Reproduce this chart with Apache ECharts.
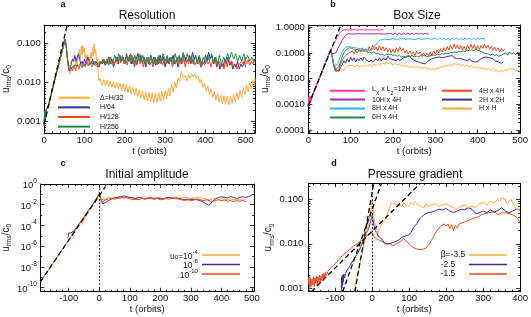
<!DOCTYPE html>
<html><head><meta charset="utf-8">
<script src="https://cdn.jsdelivr.net/npm/echarts@6/dist/echarts.min.js"></script>
<style>html,body{margin:0;padding:0;background:#fff}#c{width:531px;height:317px}</style>
</head><body><div id="c"></div>
<script>
// ---------------- DATA ----------------
// Panel a: Resolution
const aGrowth = [[0,0.0008],[1,0.0016],[2,0.0011],[3,0.0019],[4,0.0013],[5,0.002],[7,0.0018],[10,0.0025],[15,0.004],[20,0.0065],[25,0.0105],[30,0.0165],[35,0.026],[40,0.042],[45,0.066],[50,0.107],[52,0.13]];
const aDashed = [[0,0.00085],[57,0.3]];
const aH32 = [[55,0.07],[58,0.035],[61,0.022],[64,0.017],[67,0.022],[70,0.02],[73,0.028],[76,0.024],[79,0.035],[82,0.03],[85,0.05],[88,0.07],[90,0.04],[92,0.085],[94,0.05],[96,0.09],[98,0.06],[100,0.075],[102,0.04],[104,0.055],[106,0.035],[108,0.05],[110,0.03],[112,0.045],[114,0.035],[116,0.06],[118,0.04],[120,0.08],[122,0.05],[124,0.1],[126,0.055],[128,0.07],[130,0.035],[132,0.04],[134,0.02],[136,0.011],[138,0.013],
[140,0.012],[144,0.0085],[148,0.012],[152,0.008],[156,0.0115],[160,0.0078],[164,0.011],[168,0.0075],[172,0.0105],[176,0.0072],[180,0.0102],[184,0.0068],[188,0.0098],[192,0.0063],[196,0.0092],[200,0.0058],[204,0.0088],[208,0.0055],[212,0.0082],[216,0.005],[220,0.0076],[224,0.0047],[228,0.0072],[232,0.0043],[236,0.0066],[240,0.004],[244,0.0062],[248,0.0036],[252,0.0058],[256,0.0034],[260,0.0056],[264,0.0032],[268,0.0055],[272,0.003],[276,0.0053],[280,0.0031],[284,0.0055],[288,0.0033],[292,0.006],[296,0.0035],[300,0.0062],[304,0.0038],[308,0.0072],[312,0.0045],[316,0.0088],[320,0.0056],[324,0.0105],[328,0.0072],[332,0.013],[336,0.011],[340,0.019],[343,0.021],[346,0.013],[350,0.015],[354,0.011],[358,0.016],[362,0.013],[366,0.017],[370,0.014],[374,0.017],[378,0.013],[382,0.015],[386,0.01],[390,0.012],[394,0.0075],[398,0.0098],[402,0.006],[406,0.0082],[410,0.005],[414,0.007],[418,0.0042],[422,0.006],[426,0.0036],[430,0.0052],[434,0.0032],[438,0.0048],[442,0.0029],[446,0.0046],[450,0.0028],[454,0.0045],[458,0.0027],[462,0.0046],[466,0.0029],[470,0.005],[474,0.0032],[478,0.0056],[482,0.0036],[486,0.0064],[490,0.0042],[494,0.0074],[498,0.0049],[502,0.0085],[506,0.0058],[510,0.0098],[514,0.0068],[518,0.0115],[522,0.0085],[523,0.013]];
const aH64 = [[55,0.08],[58,0.04],[61,0.025],[64,0.02],[67,0.03],[70,0.04],[73,0.035],[76,0.05],[79,0.035],[82,0.045],[85,0.055],[88,0.04],[91,0.03],[94,0.035],[97,0.028],[100,0.04],[104,0.03],[108,0.045],[112,0.035],[116,0.03],[120,0.04],[124,0.028],[128,0.035],[132,0.03],[136,0.025],[140,0.035],[144,0.03],[148,0.04],[152,0.028],[156,0.035],[160,0.045],[164,0.03],[168,0.04],[172,0.025],[176,0.035],[180,0.045],[184,0.03],[188,0.05],[192,0.035],[196,0.045],[200,0.03],[204,0.055],[208,0.035],[212,0.05],[216,0.03],[220,0.045],[224,0.025],[228,0.04],[232,0.055],[236,0.035],[240,0.05],[244,0.03],[248,0.045],[252,0.025],[256,0.04],[260,0.03],[264,0.05],[268,0.035],[272,0.045],[276,0.028],[280,0.04],[284,0.03],[288,0.05],[292,0.035],[296,0.045],[300,0.025],[304,0.04],[308,0.03],[312,0.045],[316,0.035],[320,0.05],[324,0.03],[328,0.04],[332,0.025],[336,0.045],[340,0.035],[344,0.055],[348,0.03],[352,0.045],[356,0.035],[360,0.05],[364,0.03],[368,0.06],[372,0.04],[376,0.05],[380,0.03],[384,0.045],[388,0.025],[392,0.035],[396,0.03],[400,0.05],[404,0.035],[408,0.06],[412,0.04],[416,0.05],[420,0.03],[424,0.045],[428,0.025],[432,0.035],[436,0.022],[440,0.03],[444,0.025],[448,0.04],[452,0.03],[456,0.045],[460,0.028],[464,0.035],[468,0.022],[472,0.03],[476,0.025],[480,0.035],[484,0.022],[488,0.03],[492,0.025],[496,0.035],[500,0.025]];
const aH128 = [[55,0.08],[58,0.035],[61,0.02],[64,0.018],[67,0.025],[70,0.02],[74,0.028],[78,0.02],[82,0.03],[86,0.022],[90,0.03],[94,0.024],[98,0.032],[102,0.025],[106,0.035],[110,0.028],[114,0.032],[118,0.025],[122,0.035],[126,0.028],[130,0.03],[134,0.025],[138,0.035],[142,0.03],[146,0.04],[150,0.028],[154,0.035],[158,0.03],[162,0.045],[166,0.03],[170,0.038],[174,0.028],[178,0.042],[182,0.03],[186,0.045],[190,0.032],[194,0.05],[198,0.03],[202,0.04],[206,0.028],[210,0.045],[214,0.032],[218,0.05],[222,0.03],[226,0.04],[230,0.028],[234,0.045],[238,0.03],[242,0.04],[246,0.025],[250,0.04],[254,0.03],[258,0.045],[262,0.028],[266,0.035],[270,0.025],[274,0.04],[278,0.03],[282,0.045],[286,0.032],[290,0.04],[294,0.028],[298,0.038],[302,0.03],[306,0.045],[310,0.032],[314,0.04],[318,0.025],[322,0.035],[326,0.03],[330,0.045],[334,0.028],[338,0.04],[342,0.03],[346,0.045],[350,0.025],[354,0.038],[358,0.03],[362,0.045],[366,0.032],[370,0.04],[374,0.028],[378,0.035],[382,0.03],[386,0.04],[390,0.025],[394,0.032],[398,0.028],[402,0.04],[406,0.03],[410,0.035],[414,0.025],[418,0.04],[422,0.03],[426,0.045],[430,0.028],[434,0.035],[438,0.025],[442,0.03],[446,0.022],[450,0.035],[454,0.025],[458,0.04],[462,0.028],[466,0.035],[470,0.025],[474,0.03],[478,0.022],[482,0.028],[486,0.025],[490,0.035],[494,0.03],[498,0.045],[502,0.03],[506,0.038],[510,0.028],[514,0.035],[518,0.03],[523,0.04]];
const aH256 = [[55,0.08],[58,0.04],[61,0.028],[64,0.025],[68,0.024],[72,0.026],[76,0.028],[80,0.025],[85,0.027],[90,0.03],[95,0.026],[100,0.028],[105,0.03],[110,0.027],[115,0.032],[120,0.03],[125,0.035],[130,0.028],[135,0.033],[140,0.03],[145,0.038],[150,0.03],[155,0.04],[160,0.028],[165,0.045],[170,0.032],[175,0.05],[180,0.035],[185,0.055],[190,0.035],[195,0.045],[200,0.03],[205,0.05],[210,0.035],[215,0.055],[220,0.03],[225,0.05],[230,0.03],[235,0.055],[240,0.035],[245,0.05],[250,0.03],[255,0.045],[260,0.03],[265,0.05],[270,0.03],[275,0.045],[280,0.028],[285,0.05],[290,0.03],[295,0.055],[300,0.035],[305,0.05],[310,0.03],[315,0.045],[320,0.03],[325,0.055],[330,0.035],[335,0.05],[340,0.03],[345,0.06],[350,0.04],[355,0.055],[360,0.035],[365,0.05],[370,0.03],[375,0.045],[380,0.035],[385,0.05],[390,0.03],[395,0.045],[400,0.03],[405,0.05],[410,0.035],[415,0.055],[420,0.03],[425,0.045],[430,0.03],[435,0.05],[440,0.028],[445,0.045],[450,0.035],[455,0.055],[460,0.04],[465,0.06],[470,0.04],[475,0.055],[480,0.035],[485,0.05],[490,0.035],[495,0.055],[500,0.04],[505,0.05],[510,0.035],[515,0.045],[520,0.035],[523,0.04]];

// Panel b: Box Size
const bGrowth = [[0,0.0008],[1,0.0018],[2,0.001],[3,0.0021],[4,0.0012],[5,0.0019],[6,0.0014],[10,0.0023],[20,0.0058],[30,0.015],[40,0.04],[50,0.1],[53,0.13]];
const bDashed = [[0,0.0009],[76,1.1]];
const b12H = [[56,0.16],[60,0.22],[64,0.3],[68,0.4],[72,0.52],[76,0.65],[80,0.76],[84,0.8],[100,0.8],[120,0.79],[140,0.8],[160,0.79],[178,0.8]];
const b10H = [[56,0.09],[60,0.08],[65,0.1],[70,0.15],[75,0.22],[80,0.31],[85,0.42],[90,0.52],[95,0.56],[105,0.55],[120,0.56],[140,0.55],[160,0.56],[180,0.55],[195,0.57],[200,0.52],[205,0.6],[210,0.52],[215,0.6],[220,0.52],[225,0.6],[230,0.53],[235,0.6],[240,0.53],[245,0.59],[250,0.53],[255,0.59],[260,0.54],[265,0.58],[270,0.54],[275,0.58],[280,0.55],[285,0.56]];
const b8H = [[56,0.08],[60,0.04],[63,0.03],[66,0.028],[70,0.04],[75,0.07],[80,0.11],[85,0.15],[90,0.17],[95,0.18],[100,0.17],[110,0.16],[120,0.15],[130,0.14],[140,0.13],[148,0.13],[155,0.16],[160,0.22],[165,0.28],[170,0.32],[175,0.34],[180,0.35],[190,0.33],[200,0.36],[210,0.34],[220,0.37],[230,0.34],[240,0.36],[250,0.33],[260,0.36],[270,0.34],[280,0.37],[290,0.34],[300,0.38],[305,0.33],[310,0.38],[315,0.34],[320,0.38],[325,0.33],[330,0.37],[335,0.33],[340,0.38],[345,0.34],[350,0.38],[355,0.33],[360,0.37],[365,0.33],[370,0.38],[375,0.34],[380,0.38],[385,0.33],[390,0.37],[395,0.33],[400,0.38],[405,0.34],[410,0.37],[417,0.35]];
const b6H = [[56,0.08],[60,0.035],[64,0.022],[68,0.02],[72,0.03],[76,0.045],[80,0.07],[84,0.1],[88,0.13],[92,0.15],[96,0.16],[100,0.14],[105,0.15],[110,0.13],[115,0.14],[120,0.12],[125,0.13],[130,0.115],[135,0.12],[140,0.1],[145,0.11],[150,0.1],[155,0.11],[160,0.095],[165,0.1],[170,0.085],[175,0.09],[180,0.08],[185,0.09],[190,0.085],[195,0.09],[200,0.08],[205,0.085],[210,0.075],[215,0.08],[220,0.07],[225,0.075],[230,0.07],[235,0.08],[240,0.075],[245,0.08],[250,0.07],[255,0.075],[260,0.07],[265,0.08],[270,0.075],[275,0.085],[280,0.07],[285,0.075],[290,0.08],[295,0.085],[300,0.08],[305,0.09],[310,0.085],[315,0.095],[320,0.09],[325,0.1],[330,0.095],[335,0.105],[340,0.1],[345,0.11],[350,0.105],[355,0.115],[360,0.11],[365,0.12],[370,0.115],[375,0.13],[380,0.12],[385,0.135],[390,0.125],[395,0.14],[400,0.13],[405,0.12],[410,0.11],[415,0.1],[420,0.095],[425,0.09],[430,0.085],[435,0.09],[440,0.08],[445,0.085],[450,0.075],[455,0.08],[460,0.09],[465,0.1],[470,0.085],[475,0.11],[480,0.09],[485,0.1],[490,0.085],[495,0.11],[500,0.1]];
const b4H = [[56,0.08],[60,0.04],[64,0.025],[68,0.02],[72,0.024],[76,0.035],[80,0.05],[84,0.065],[88,0.08],[92,0.07],[96,0.1],[100,0.085],[104,0.12],[108,0.09],[112,0.13],[116,0.1],[120,0.14],[124,0.11],[128,0.16],[132,0.12],[136,0.15],[140,0.11],[144,0.18],[148,0.12],[152,0.2],[156,0.13],[160,0.17],[164,0.12],[168,0.19],[172,0.13],[176,0.18],[180,0.12],[184,0.16],[188,0.11],[192,0.15],[196,0.1],[200,0.14],[204,0.1],[208,0.16],[212,0.11],[216,0.17],[220,0.12],[224,0.15],[228,0.1],[232,0.13],[236,0.09],[240,0.12],[244,0.09],[248,0.11],[252,0.08],[256,0.12],[260,0.09],[264,0.11],[268,0.08],[272,0.1],[276,0.075],[280,0.1],[284,0.08],[288,0.11],[292,0.08],[296,0.12],[300,0.09],[304,0.13],[308,0.1],[312,0.15],[316,0.11],[320,0.16],[324,0.12],[328,0.18],[332,0.13],[336,0.2],[340,0.14],[344,0.22],[348,0.15],[352,0.2],[356,0.14],[360,0.19],[364,0.13],[368,0.18],[372,0.13],[376,0.2],[380,0.14],[384,0.22],[388,0.15],[392,0.21],[396,0.14],[400,0.19],[404,0.13],[408,0.2],[412,0.15],[416,0.22],[420,0.15],[424,0.2],[428,0.14],[432,0.18],[436,0.13],[440,0.17],[444,0.12],[448,0.16],[452,0.11],[456,0.15],[460,0.12],[465,0.14]];
const b2H = [[56,0.08],[60,0.035],[64,0.02],[68,0.017],[72,0.02],[76,0.028],[80,0.035],[84,0.05],[88,0.04],[92,0.06],[96,0.045],[100,0.07],[104,0.05],[108,0.065],[112,0.045],[116,0.06],[120,0.05],[124,0.065],[128,0.05],[132,0.07],[136,0.055],[140,0.06],[144,0.045],[148,0.055],[152,0.045],[156,0.05],[160,0.06],[164,0.05],[168,0.065],[172,0.05],[176,0.06],[180,0.07],[184,0.055],[188,0.075],[192,0.06],[196,0.07],[200,0.055],[204,0.065],[208,0.05],[212,0.06],[216,0.05],[220,0.055],[224,0.065],[228,0.055],[232,0.07],[236,0.06],[240,0.075],[244,0.06],[248,0.065],[252,0.05],[256,0.055],[260,0.045],[264,0.05],[268,0.04],[272,0.045],[276,0.038],[280,0.045],[284,0.05],[288,0.055],[292,0.06],[296,0.055],[300,0.065],[304,0.06],[308,0.07],[312,0.06],[316,0.065],[320,0.055],[324,0.07],[328,0.06],[332,0.075],[336,0.065],[340,0.08],[344,0.065],[348,0.075],[352,0.06],[356,0.07],[360,0.06],[364,0.065],[368,0.055],[372,0.06],[376,0.05],[380,0.06],[384,0.05],[388,0.055],[392,0.045],[396,0.05],[400,0.045],[404,0.055],[408,0.05],[412,0.065],[416,0.055],[420,0.07],[424,0.06],[428,0.065],[432,0.055],[436,0.06],[440,0.05],[444,0.055],[448,0.045],[452,0.05],[456,0.04],[460,0.045]];
const b1H = [[56,0.06],[60,0.03],[64,0.02],[68,0.017],[72,0.02],[76,0.018],[80,0.024],[84,0.02],[88,0.028],[92,0.024],[96,0.032],[100,0.027],[105,0.033],[110,0.028],[115,0.035],[120,0.027],[125,0.032],[130,0.028],[135,0.034],[140,0.03],[145,0.036],[150,0.03],[155,0.038],[160,0.033],[165,0.04],[170,0.034],[175,0.042],[180,0.036],[185,0.045],[190,0.038],[195,0.042],[200,0.034],[205,0.04],[210,0.033],[215,0.038],[220,0.03],[225,0.035],[230,0.028],[235,0.033],[240,0.027],[245,0.031],[250,0.026],[255,0.03],[260,0.025],[265,0.029],[270,0.024],[275,0.028],[280,0.023],[285,0.027],[290,0.022],[295,0.026],[300,0.022],[305,0.028],[310,0.025],[315,0.032],[320,0.028],[325,0.035],[330,0.03],[335,0.038],[340,0.032],[345,0.04],[350,0.034],[355,0.038],[360,0.032],[365,0.036],[370,0.03],[375,0.034],[380,0.028],[385,0.032],[390,0.027],[395,0.03],[400,0.025],[405,0.028],[410,0.024],[415,0.027],[420,0.022],[425,0.025],[430,0.021],[435,0.024],[440,0.02],[445,0.022],[450,0.018],[455,0.021],[460,0.019],[465,0.023],[470,0.021],[475,0.025],[480,0.022],[485,0.024],[490,0.02],[495,0.022],[500,0.019]];

// Panel c: Initial amplitude
const cDashed = [[-193,3.6e-10],[20,0.55]];
const cU10 = [[-193,3.5e-10],[-180,1.3e-9],[-160,1e-8],[-140,7.5e-8],[-120,5.5e-7],[-100,4e-6],[-80,3e-5],[-60,2.3e-4],[-40,1.7e-3],[-20,0.012],[-10,0.035],[-3,0.08],[0,0.13],[3,0.06],[6,0.03],[10,0.018],[15,0.02],[20,0.03],[25,0.04],[30,0.035],[35,0.045],[40,0.04],[45,0.05],[50,0.035],[55,0.045],[60,0.04],[65,0.05],[70,0.045],[75,0.055],[80,0.05],[85,0.04],[90,0.045],[95,0.035],[100,0.04],[110,0.03],[120,0.035],[130,0.03],[140,0.04],[150,0.035],[160,0.045],[170,0.04],[180,0.035],[190,0.04],[200,0.03],[210,0.035],[220,0.04],[230,0.035],[240,0.045],[250,0.04],[260,0.035],[270,0.03],[280,0.025],[290,0.03],[300,0.025],[310,0.028],[320,0.035],[330,0.03],[340,0.025],[350,0.03],[360,0.025],[370,0.02],[380,0.025],[390,0.03],[400,0.025],[410,0.028],[420,0.022],[430,0.025],[440,0.02],[450,0.025],[460,0.022],[470,0.025],[480,0.02]];
const cU6 = [[-103,6e-6],[-100,1.8e-5],[-97,1.2e-5],[-93,2e-5],[-90,1.6e-5],[-85,2.5e-5],[-80,3.5e-5],[-60,2.5e-4],[-40,1.8e-3],[-20,0.013],[-10,0.035],[0,0.12],[3,0.06],[7,0.02],[12,0.012],[18,0.015],[25,0.02],[30,0.025],[40,0.035],[50,0.045],[60,0.05],[70,0.06],[75,0.08],[80,0.07],[85,0.09],[90,0.06],[100,0.05],[110,0.045],[120,0.04],[130,0.05],[140,0.045],[150,0.035],[160,0.04],[170,0.045],[180,0.035],[190,0.045],[200,0.04],[210,0.035],[220,0.045],[230,0.05],[240,0.04],[250,0.045],[260,0.04],[270,0.035],[280,0.03],[290,0.035],[300,0.03],[310,0.035],[320,0.03],[330,0.025],[340,0.02],[350,0.012],[358,0.009],[365,0.012],[370,0.02],[380,0.035],[390,0.05],[400,0.06],[410,0.05],[420,0.045],[430,0.06],[440,0.05],[450,0.04],[460,0.05],[470,0.06],[480,0.05],[490,0.06],[500,0.09],[503,0.1]];
const cU4 = [[-58,1.2e-4],[-55,2e-4],[-50,3.5e-4],[-40,1.6e-3],[-20,0.012],[-10,0.035],[0,0.1],[3,0.05],[7,0.03],[12,0.025],[20,0.035],[25,0.04],[30,0.05],[40,0.045],[50,0.05],[60,0.055],[70,0.05],[80,0.045],[90,0.05],[100,0.04],[110,0.045],[120,0.04],[130,0.05],[140,0.045],[150,0.04],[160,0.045],[170,0.05],[180,0.045],[190,0.04],[200,0.045],[210,0.04],[220,0.045],[230,0.05],[240,0.045],[250,0.055],[260,0.05],[270,0.045],[280,0.05],[290,0.045],[300,0.04],[310,0.045],[320,0.05],[330,0.045],[340,0.04],[350,0.035],[360,0.03],[370,0.035],[380,0.04],[390,0.035],[400,0.04],[410,0.035],[420,0.03],[430,0.035],[440,0.03],[450,0.035],[460,0.03],[470,0.028],[480,0.03]];

// Panel d: Pressure gradient
const dDash15 = [[-165,0.00084],[130,0.23]];
const dDash25 = [[-80,0.00084],[25,0.23]];
const dDash35 = [[-47,0.00084],[4,0.23]];
const dB15 = [[-173,0.0012],[-171,0.0018],[-169,0.001],[-167,0.0017],[-165,0.0011],[-163,0.0016],[-161,0.0012],[-159,0.0018],[-157,0.0011],[-155,0.0017],[-153,0.0013],[-151,0.0019],[-149,0.0012],[-147,0.0018],[-145,0.0014],[-143,0.002],[-141,0.0013],[-139,0.0019],[-137,0.0015],[-135,0.0021],[-133,0.0016],[-131,0.0022],[-129,0.0017],[-127,0.0023],[-125,0.0019],[-120,0.0024],[-115,0.0026],[-110,0.003],[-100,0.0036],[-90,0.0045],[-80,0.0055],[-70,0.0065],[-60,0.0075],[-50,0.009],[-40,0.01],[-30,0.012],[-20,0.014],[-10,0.016],[0,0.018],[3,0.016],[6,0.014],[9,0.015],[12,0.013],[15,0.014],[20,0.012],[25,0.013],[30,0.011],[35,0.012],[40,0.01],[45,0.0095],[50,0.01],[55,0.009],[60,0.0095],[65,0.01],[70,0.0105],[75,0.011],[80,0.012],[85,0.013],[90,0.012],[95,0.011],[100,0.0105],[105,0.009],[110,0.0085],[115,0.008],[120,0.0078],[125,0.0075],[130,0.0072],[135,0.0075],[140,0.0078],[145,0.008],[150,0.009],[155,0.01],[160,0.012],[165,0.014],[170,0.017],[175,0.02],[180,0.022],[185,0.025],[190,0.024],[195,0.028],[200,0.025],[205,0.028],[210,0.022],[215,0.027],[220,0.02],[225,0.026],[230,0.023],[235,0.028],[240,0.026],[245,0.03],[250,0.028],[255,0.032],[260,0.03],[265,0.035],[270,0.033],[275,0.038],[280,0.036],[285,0.04],[290,0.038],[295,0.045],[300,0.043],[305,0.048],[310,0.045],[315,0.05],[320,0.048],[325,0.052],[330,0.047],[335,0.05],[340,0.045],[345,0.048],[350,0.05],[355,0.055],[360,0.05],[365,0.052],[370,0.048],[375,0.05],[380,0.045],[385,0.048],[390,0.04],[395,0.035],[400,0.03]];
const dB25 = [[-84,0.0008],[-83,0.0018],[-82,0.001],[-81,0.002],[-80,0.0012],[-79,0.0019],[-78,0.0014],[-77,0.0021],[-75,0.0017],[-72,0.0022],[-70,0.0024],[-65,0.0028],[-60,0.0033],[-50,0.0045],[-40,0.006],[-30,0.009],[-20,0.014],[-10,0.022],[-5,0.03],[0,0.045],[2,0.035],[5,0.025],[8,0.02],[12,0.018],[16,0.015],[20,0.016],[25,0.013],[30,0.012],[35,0.01],[40,0.011],[45,0.01],[50,0.0105],[60,0.011],[70,0.012],[80,0.014],[90,0.015],[100,0.016],[105,0.018],[110,0.022],[115,0.025],[120,0.028],[125,0.033],[130,0.038],[135,0.042],[140,0.045],[150,0.05],[160,0.052],[170,0.055],[180,0.06],[190,0.058],[200,0.062],[210,0.055],[220,0.05],[230,0.055],[240,0.06],[250,0.058],[260,0.065],[270,0.06],[280,0.048],[290,0.05],[300,0.055],[310,0.05],[320,0.058],[330,0.052],[340,0.056],[350,0.065],[360,0.055],[370,0.05],[380,0.055],[390,0.06],[400,0.058]];
const dB35 = [[-48,0.00084],[-45,0.0013],[-40,0.002],[-35,0.003],[-30,0.0048],[-25,0.0075],[-20,0.012],[-15,0.018],[-10,0.03],[-5,0.05],[-2,0.075],[0,0.1],[2,0.08],[4,0.05],[6,0.035],[8,0.028],[10,0.025],[13,0.02],[16,0.018],[20,0.022],[24,0.025],[28,0.03],[32,0.028],[36,0.035],[40,0.045],[44,0.055],[48,0.07],[52,0.085],[56,0.09],[60,0.08],[65,0.085],[70,0.075],[75,0.08],[80,0.07],[85,0.085],[90,0.075],[95,0.08],[100,0.07],[105,0.085],[110,0.075],[115,0.09],[120,0.08],[125,0.085],[130,0.07],[135,0.075],[140,0.065],[145,0.08],[150,0.07],[160,0.075],[170,0.08],[180,0.07],[190,0.075],[200,0.08],[210,0.07],[220,0.065],[230,0.06],[240,0.07],[250,0.075],[260,0.065],[270,0.07],[280,0.065],[290,0.08],[300,0.085],[310,0.075],[320,0.09],[330,0.085],[340,0.1],[345,0.09],[350,0.11],[355,0.12],[360,0.1],[365,0.08],[370,0.085],[375,0.1],[380,0.095],[385,0.07],[390,0.06],[395,0.065],[400,0.06]];

// Tick labels
const xTicksA = [0,100,200,300,400,500];
const xTicksB = [0,100,200,300,400,500];
const xTicksC = [-100,0,100,200,300,400,500];
const xTicksD = [-100,0,100,200,300,400];
const yTicksA = [0.001,0.01,0.1];
const yTicksB = [0.0001,0.001,0.01,0.1,1];
const yTicksC = [1e-10,1e-8,1e-6,1e-4,1e-2,1];
const yTicksD = [0.001,0.01,0.1];

// ---------------- STYLE / BUILD ----------------
const FONT = '"Liberation Sans", Arial, Helvetica, sans-serif';
const C_OR='#FFAA3C', C_BL='#3D2E9E', C_RD='#F2481F', C_GR='#1F8A45', C_PK='#FF3AA0', C_PU='#9C32A8', C_CY='#27B5F2';

function minorX(lo, hi, step){ const r=[]; for(let v=Math.ceil(lo/step)*step; v<=hi; v+=step) r.push(v); return r; }
function minorLog(lo, hi){ const r=[]; for(let e=-11;e<=1;e++){ for(let m=2;m<=9;m++){ const v=m*Math.pow(10,e); if(v>=lo&&v<=hi) r.push(v);} } return r; }

const grids=[], xAxes=[], yAxes=[], series=[], graphics=[];
const TK={color:'#000',width:0.8};
function addPanel(p){
  const g=grids.length;
  grids.push(p.grid);
  const xi=xAxes.length, yi=yAxes.length;
  const bx={type:'value',gridIndex:g,min:p.xMin,max:p.xMax,splitLine:{show:false},axisLine:{show:false,onZero:false},axisLabel:{show:false},axisTick:{show:false}};
  xAxes.push(Object.assign({},bx,{position:'bottom',axisLine:{show:true,onZero:false,lineStyle:{color:'#000',width:1}},
    axisTick:{show:true,inside:true,length:4,customValues:p.xMajor,lineStyle:TK},
    axisLabel:{show:true,customValues:p.xMajor,margin:2,fontSize:9.5,color:'#111',fontFamily:FONT},
    name:'t (orbits)',nameLocation:'middle',nameGap:p.xNameGap,nameTextStyle:{fontSize:9.5,color:'#111',fontFamily:FONT}}));
  xAxes.push(Object.assign({},bx,{position:'top',axisLine:{show:true,onZero:false,lineStyle:{color:'#000',width:1}},axisTick:{show:true,inside:true,length:4,customValues:p.xMajor,lineStyle:TK}}));
  xAxes.push(Object.assign({},bx,{position:'bottom',axisTick:{show:true,inside:true,length:2,customValues:p.xMinor,lineStyle:TK}}));
  xAxes.push(Object.assign({},bx,{position:'top',axisTick:{show:true,inside:true,length:2,customValues:p.xMinor,lineStyle:TK}}));
  const by={type:'log',logBase:10,gridIndex:g,min:p.yMin,max:p.yMax,splitLine:{show:false},axisLine:{show:false,onZero:false},axisLabel:{show:false},axisTick:{show:false}};
  yAxes.push(Object.assign({},by,{position:'left',axisLine:{show:true,onZero:false,lineStyle:{color:'#000',width:1}},
    axisTick:{show:true,inside:true,length:4,customValues:p.yMajor,lineStyle:TK},
    axisLabel:{show:true,customValues:p.yMajor,margin:p.yLabelMargin,fontSize:9.5,color:'#111',fontFamily:FONT,formatter:p.yFmt,rich:p.yRich},
    name:'{a|u}{s|rms}{a|/c}{s|0}',nameLocation:'middle',nameRotate:90,nameGap:p.yNameGap,
    nameTextStyle:{fontFamily:FONT,color:'#111',rich:{a:{fontSize:10,fontFamily:FONT,color:'#111',verticalAlign:'top',lineHeight:12},s:{fontSize:6.5,fontFamily:FONT,color:'#111',verticalAlign:'bottom',lineHeight:8}}}}));
  yAxes.push(Object.assign({},by,{position:'right',axisLine:{show:true,onZero:false,lineStyle:{color:'#000',width:1}},axisTick:{show:true,inside:true,length:4,customValues:p.yMajor,lineStyle:TK}}));
  yAxes.push(Object.assign({},by,{position:'left',axisTick:{show:true,inside:true,length:2,customValues:p.yMinor,lineStyle:TK}}));
  yAxes.push(Object.assign({},by,{position:'right',axisTick:{show:true,inside:true,length:2,customValues:p.yMinor,lineStyle:TK}}));
  return {xi,yi};
}
function line(P, data, color, z, extra){
  series.push(Object.assign({type:'line',xAxisIndex:P.xi,yAxisIndex:P.yi,data,symbol:'none',showSymbol:false,
    lineStyle:{color,width:1},itemStyle:{color},z:z||2,animation:false,silent:true},extra||{}));
}
function dashed(P, data, extra){ line(P, data, '#000', 10, Object.assign({lineStyle:{color:'#000',width:1.3,type:[5,3]}}, extra||{})); }

const supRich = {b:{fontSize:9.5,fontFamily:FONT,color:'#111',verticalAlign:'bottom',lineHeight:13},p:{fontSize:6.5,fontFamily:FONT,color:'#111',verticalAlign:'top',lineHeight:8}};

const PA = addPanel({grid:{left:39.5,top:25,width:215.5,height:108.3},xMin:0,xMax:523,xMajor:xTicksA,xMinor:minorX(0,523,20),xNameGap:8.5,
  yMin:0.0005,yMax:0.3,yMajor:yTicksA,yMinor:minorLog(0.0005,0.3),yFmt:v=>(+v).toFixed(3),yLabelMargin:3.5,yNameGap:27});
const PB = addPanel({grid:{left:308.3,top:25,width:214,height:108.3},xMin:0,xMax:500,xMajor:xTicksB,xMinor:minorX(0,500,20),xNameGap:8.5,
  yMin:0.000075,yMax:1.23,yMajor:yTicksB,yMinor:minorLog(0.000075,1.23),yFmt:v=>(+v).toFixed(4),yLabelMargin:3.5,yNameGap:34});
const PC = addPanel({grid:{left:40,top:184,width:214,height:107.7},xMin:-193,xMax:507,xMajor:xTicksC,xMinor:minorX(-193,507,20),xNameGap:13,
  yMin:4e-11,yMax:1,yMajor:yTicksC,yMinor:[1e-9,1e-7,1e-5,1e-3,1e-1],yFmt:v=>'{b|10}{p|'+Math.round(Math.log10(v))+'}',yRich:supRich,yLabelMargin:3.5,yNameGap:24});
const PD = addPanel({grid:{left:308.3,top:183.3,width:215,height:108.4},xMin:-173,xMax:400,xMajor:xTicksD,xMinor:minorX(-173,400,20),xNameGap:13,
  yMin:0.00084,yMax:0.23,yMajor:yTicksD,yMinor:minorLog(0.00084,0.23),yFmt:v=>(+v).toFixed(3),yLabelMargin:5,yNameGap:31});

// panel a
line(PA, aGrowth.concat(aH32), C_OR, 2);
line(PA, aGrowth.concat(aH64), C_BL, 3);
line(PA, aGrowth.concat(aH128), C_RD, 4);
line(PA, aGrowth.concat(aH256), C_GR, 5);
dashed(PA, aDashed);
// panel b
line(PB, bGrowth.concat(b1H), C_OR, 2);
line(PB, bGrowth.concat(b2H), C_BL, 3);
line(PB, bGrowth.concat(b4H), C_RD, 4);
line(PB, bGrowth.concat(b6H), C_GR, 5);
line(PB, bGrowth.concat(b8H), C_CY, 6);
line(PB, bGrowth.concat(b10H), C_PU, 7);
line(PB, bGrowth.concat(b12H), C_PK, 8);
dashed(PB, bDashed);
// panel c
line(PC, cU4, C_OR, 2);
line(PC, cU6, C_BL, 3);
line(PC, cU10, C_RD, 4);
dashed(PC, cDashed, {markLine:{symbol:'none',silent:true,animation:false,label:{show:false},lineStyle:{color:'#000',type:[1.5,2],width:1},data:[{xAxis:0}]}});
// panel d
line(PD, dB15, C_RD, 2);
line(PD, dB25, C_BL, 3);
line(PD, dB35, C_OR, 4);
dashed(PD, dDash15);
dashed(PD, dDash25);
dashed(PD, dDash35, {markLine:{symbol:'none',silent:true,animation:false,label:{show:false},lineStyle:{color:'#000',type:[1.5,2],width:1},data:[{xAxis:0}]}});

// titles & panel letters
function txt(x,y,text,size,opts){ graphics.push({type:'text',x,y,silent:true,style:Object.assign({text,fill:'#111',fontSize:size,fontFamily:FONT,align:'center',verticalAlign:'middle'},opts||{})}); }
txt(63,5,'a',9,{fontWeight:'bold'}); txt(333,5,'b',9,{fontWeight:'bold'});
txt(63,163.5,'c',9,{fontWeight:'bold'}); txt(334,163.5,'d',9,{fontWeight:'bold'});
txt(147,16,'Resolution',12); txt(417,16,'Box Size',12);
txt(147,174.5,'Initial amplitude',12); txt(415,174.5,'Pressure gradient',12);

// legends
function leg(x1,x2,y,color,w){ graphics.push({type:'line',silent:true,shape:{x1,y1:y,x2,y2:y},style:{stroke:color,lineWidth:w||1.6}}); }
const subRich = (fs)=>({n:{fontSize:fs,fontFamily:FONT,fill:'#111',color:'#111',verticalAlign:'top',lineHeight:fs+3},s:{fontSize:fs*0.72,fontFamily:FONT,fill:'#111',color:'#111',verticalAlign:'bottom',lineHeight:fs*0.72}});
const supRich2 = (fs)=>({n:{fontSize:fs,fontFamily:FONT,fill:'#111',color:'#111',verticalAlign:'bottom',lineHeight:fs+3},p:{fontSize:fs*0.72,fontFamily:FONT,fill:'#111',color:'#111',verticalAlign:'top',lineHeight:fs*0.72},s:{fontSize:fs*0.72,fontFamily:FONT,fill:'#111',color:'#111',verticalAlign:'bottom',lineHeight:fs*0.72}});
// a
const legA = [['Δ=H/32',C_OR],['H/64',C_BL],['H/128',C_RD],['H/256',C_GR]];
legA.forEach((e,i)=>{ const y=97.7+i*9.65; leg(58,90,y,e[1],2); txt(100,y,e[0],7,{align:'left'}); });
// b
const legB1 = [['{n|L}{s|X}{n| x L}{s|Z}{n|=12H x 4H}',C_PK],['10H x 4H',C_PU],['8H x 4H',C_CY],['6H x 4H',C_GR]];
const legB2 = [['4H x 4H',C_RD],['2H x 2H',C_BL],['H x H',C_OR]];
legB1.forEach((e,i)=>{ const y=90.7+i*8.9; leg(330,365,y,e[1],2); txt(372,y,e[0],7,{align:'left',rich:subRich(7)}); });
legB2.forEach((e,i)=>{ const y=90.7+i*8.9; leg(442,472,y,e[1],2); txt(479,y,e[0],7,{align:'left'}); });
// c
const legC = [['{n|u}{s|0}{n|=10}{p|-4}',C_OR],['{n|10}{p|-6}',C_BL],['{n|10}{p|-10}',C_RD]];
legC.forEach((e,i)=>{ const y=255+i*9.5; leg(202,240,y,e[1],1.6); txt(198,y,e[0],8.5,{align:'right',rich:supRich2(8.5)}); });
// d
const legD = [['β=-3.5',C_OR],['-2.5',C_BL],['-1.5',C_RD]];
legD.forEach((e,i)=>{ const y=255+i*9.5; leg(469,507,y,e[1],1.6); txt(440.7,y,e[0],8.5,{align:'left'}); });

const chart = echarts.init(document.getElementById('c'), null, {renderer:'canvas'});
chart.setOption({animation:false,backgroundColor:'#fff',textStyle:{fontFamily:FONT},grid:grids,xAxis:xAxes,yAxis:yAxes,series,graphic:graphics});
</script></body></html>
